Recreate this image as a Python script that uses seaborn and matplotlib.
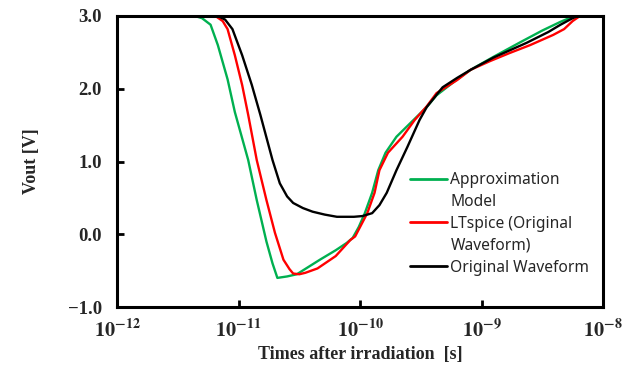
import matplotlib
matplotlib.use("Agg")
import matplotlib.pyplot as plt
from matplotlib.lines import Line2D
import seaborn as sns
import pandas as pd

# ---------------- data (time in seconds, Vout in volts) ----------------
approx_t = [3.55e-12, 4.37e-12, 5.01e-12, 5.89e-12, 6.76e-12, 8.13e-12, 9.33e-12,
            1.202e-11, 1.413e-11, 1.698e-11, 1.905e-11, 2.089e-11,
            2.512e-11, 3.020e-11, 4.677e-11, 6.310e-11, 7.762e-11, 8.710e-11,
            9.77e-11, 1.096e-10, 1.259e-10, 1.413e-10, 1.622e-10, 1.995e-10,
            2.754e-10, 3.548e-10, 4.266e-10, 6.310e-10, 8.128e-10, 1.259e-09,
            2.089e-09, 3.162e-09, 4.467e-09, 5.623e-09, 6.31e-09, 1.0e-08]
approx_v = [3.00, 3.00, 2.97, 2.88, 2.60, 2.13, 1.68, 1.02, 0.47, -0.10,
            -0.40, -0.60, -0.58, -0.55, -0.35, -0.22, -0.12, -0.05, 0.10, 0.29,
            0.57, 0.88, 1.12, 1.34, 1.57, 1.75, 1.91, 2.13, 2.26, 2.44, 2.64,
            2.80, 2.92, 2.99, 3.00, 3.00]

lt_t = [4.47e-12, 6.457e-12, 7.413e-12, 8.128e-12, 9.333e-12, 1.072e-11,
        1.202e-11, 1.413e-11, 1.698e-11, 1.995e-11, 2.344e-11, 2.630e-11,
        2.818e-11, 3.162e-11, 3.548e-11, 4.467e-11, 6.310e-11, 8.318e-11,
        9.12e-11, 1.148e-10, 1.318e-10, 1.445e-10, 1.698e-10, 2.239e-10,
        2.818e-10, 3.548e-10, 4.266e-10, 6.310e-10, 8.128e-10, 1.175e-09,
        1.698e-09, 2.512e-09, 3.890e-09, 4.786e-09, 5.623e-09, 6.457e-09, 1.0e-08]
lt_v = [3.00, 3.00, 2.93, 2.82, 2.46, 2.05, 1.64, 1.02, 0.47, 0.02, -0.35,
        -0.48, -0.54, -0.55, -0.53, -0.47, -0.30, -0.08, -0.03, 0.29, 0.57,
        0.88, 1.12, 1.34, 1.57, 1.76, 1.94, 2.12, 2.26, 2.38, 2.49, 2.60,
        2.74, 2.82, 2.93, 3.00, 3.00]

orig_t = [4.47e-12, 6.761e-12, 7.762e-12, 8.913e-12, 1.072e-11, 1.288e-11,
          1.514e-11, 1.905e-11, 2.188e-11, 2.512e-11, 2.818e-11, 3.388e-11,
          4.074e-11, 5.129e-11, 6.457e-11, 8.913e-11, 1.047e-10, 1.259e-10,
          1.445e-10, 1.660e-10, 1.995e-10, 2.455e-10, 3.090e-10, 3.548e-10,
          4.786e-10, 6.310e-10, 8.128e-10, 1.259e-09, 2.344e-09, 3.548e-09,
          4.467e-09, 5.623e-09, 6.166e-09, 1.0e-08]
orig_v = [3.00, 3.00, 2.95, 2.82, 2.46, 2.05, 1.64, 1.02, 0.70, 0.52, 0.43,
          0.36, 0.31, 0.27, 0.24, 0.24, 0.25, 0.29, 0.40, 0.57, 0.88, 1.20,
          1.57, 1.75, 2.02, 2.15, 2.26, 2.43, 2.63, 2.78, 2.88, 2.97, 3.00, 3.00]

series_names = ["Approximation Model", "LTspice (Original Waveform)", "Original Waveform"]
series_colors = ["#00B050", "#FF0000", "#000000"]
legend_lines = ["Approximation", "Model", "LTspice (Original", "Waveform)", "Original Waveform"]

x_ticks = [1e-12, 1e-11, 1e-10, 1e-9, 1e-8]
x_tick_labels = [r"$\mathbf{10^{-12}}$", r"$\mathbf{10^{-11}}$", r"$\mathbf{10^{-10}}$",
                 r"$\mathbf{10^{-9}}$", r"$\mathbf{10^{-8}}$"]
y_ticks = [-1.0, 0.0, 1.0, 2.0, 3.0]

# ---------------- build long-form table ----------------
frames = []
for name, t, v in zip(series_names, [approx_t, lt_t, orig_t], [approx_v, lt_v, orig_v]):
    frames.append(pd.DataFrame({"t": t, "v": v, "series": name}))
df = pd.concat(frames, ignore_index=True)

sns.set_theme(style="white")
plt.rcParams["font.family"] = ["Liberation Serif", "DejaVu Serif"]
plt.rcParams["mathtext.fontset"] = "stix"

fig = plt.figure(figsize=(6.34, 3.67), dpi=100)
ax = fig.add_axes([117 / 634, 1 - 307 / 367, 486 / 634, 291 / 367])

sns.lineplot(data=df, x="t", y="v", hue="series", hue_order=series_names,
             palette=dict(zip(series_names, series_colors)), sort=False,
             estimator=None, units="series", linewidth=1.7, ax=ax, legend=False)
for ln in ax.get_lines():
    ln.set_solid_joinstyle("round")
    ln.set_solid_capstyle("round")

ax.set_xscale("log")
ax.set_xlim(1e-12, 1e-8)
ax.set_ylim(-1.0, 3.0)
ax.set_xticks(x_ticks)
ax.set_xticklabels(x_tick_labels, fontsize=14.5)
ax.xaxis.set_minor_locator(matplotlib.ticker.NullLocator())
ax.set_yticks(y_ticks)
ax.set_yticklabels([f"{v:.1f}".replace("-", "\u2212") for v in y_ticks],
                   fontsize=13.5, fontweight="bold")

ax.tick_params(axis="both", which="major", direction="in", length=5, width=2,
               color="black", left=True, bottom=True, top=False, right=False)
ax.tick_params(axis="y", pad=11)
ax.tick_params(axis="x", pad=9)

for sp in ax.spines.values():
    sp.set_linewidth(2.2)
    sp.set_color("black")

ax.set_xlabel("Times after irradiation  [s]", fontsize=13, fontweight="bold", labelpad=3)
ax.set_ylabel("Vout [V]", fontsize=13, fontweight="bold", labelpad=20)

handles = [Line2D([], [], color=series_colors[0], lw=2),
           Line2D([], [], color="none", lw=2),
           Line2D([], [], color=series_colors[1], lw=2),
           Line2D([], [], color="none", lw=2),
           Line2D([], [], color=series_colors[2], lw=2)]
leg = ax.legend(handles, legend_lines, loc="upper left",
                bbox_to_anchor=((410 - 117) / 486, (307 - 172) / 291),
                frameon=False, borderpad=0, borderaxespad=0,
                handlelength=2.4, handletextpad=0.2, labelspacing=0.38,
                prop={"family": "Noto Sans", "size": 11.2})

fig.savefig("out.png", dpi=100)
